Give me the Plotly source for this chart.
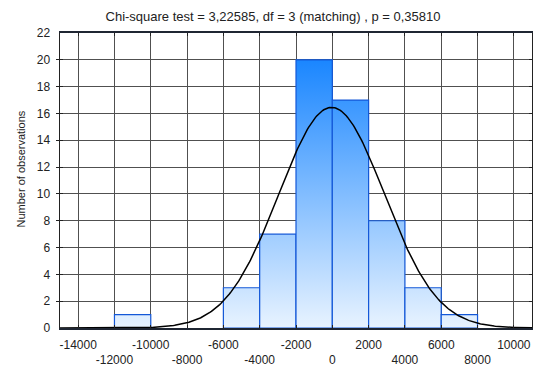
import numpy as np
import plotly.graph_objects as go

# ---- data ----
bin_left = [-12000, -10000, -8000, -6000, -4000, -2000, 0, 2000, 4000, 6000]
counts = [1, 0, 0, 3, 7, 20, 17, 8, 3, 1]
bin_width = 2000
x_ticks_row1 = [-14000, -10000, -6000, -2000, 2000, 6000, 10000]
x_ticks_row2 = [-12000, -8000, -4000, 0, 4000, 8000]
y_tick_vals = [0, 2, 4, 6, 8, 10, 12, 14, 16, 18, 20, 22]
fit_mean = -40.0
fit_sd = 2910.0
n_obs = sum(counts)
title_text = "Chi-square test = 3,22585, df = 3 (matching) , p = 0,35810"
y_title = "Number of observations"

FONT = "Liberation Sans, Arial, sans-serif"
X_RANGE = [-15000, 11000]

W, H = 533, 369
ML, MR, MT, MB = 60, 1, 33, 41
PW = W - ML - MR
PH = H - MT - MB

fig = go.Figure()

# histogram bars with a vertical gradient fill
for left, c in zip(bin_left, counts):
    if c <= 0:
        continue
    right = left + bin_width
    fig.add_trace(go.Scatter(
        x=[left, left, right, right, left],
        y=[0, c, c, 0, 0],
        mode="lines",
        fill="toself",
        fillgradient=dict(type="vertical",
                          colorscale=[[0, "#E8F3FF"], [1, "#1A86FF"]],
                          start=0, stop=20),
        line=dict(color="#1458D8", width=1.2),
        hoverinfo="skip",
        showlegend=False,
    ))

# fitted normal curve (on the overlay axis that carries the 2nd label row)
xs = np.linspace(X_RANGE[0], X_RANGE[1], 400)
ys = n_obs * bin_width / (fit_sd * np.sqrt(2 * np.pi)) * np.exp(-0.5 * ((xs - fit_mean) / fit_sd) ** 2)
fig.add_trace(go.Scatter(x=xs, y=ys, mode="lines", xaxis="x2",
                         line=dict(color="black", width=1.5),
                         showlegend=False, hoverinfo="skip"))

all_ticks = sorted(x_ticks_row1 + x_ticks_row2)
tick_text = [("%d" % v) if v in x_ticks_row1 else "" for v in all_ticks]

tickfont = dict(family=FONT, size=12, color="#222")
GRID = "#505050"

fig.update_layout(
    width=W, height=H,
    margin=dict(l=ML, r=MR, t=MT, b=MB),
    paper_bgcolor="white", plot_bgcolor="white",
    font=dict(family=FONT, size=12, color="#222"),
    title=dict(text=title_text, x=273 / W, xanchor="center", y=1 - 16 / H,
               yanchor="middle", font=dict(family=FONT, size=13, color="#222")),
    xaxis=dict(range=X_RANGE, tickmode="array", tickvals=all_ticks,
               ticktext=tick_text, tickangle=0, automargin=False,
               showgrid=True, gridcolor=GRID, gridwidth=1,
               zeroline=False, showline=True, linecolor="#1f2633", linewidth=2,
               mirror="allticks", ticks="inside", ticklen=3, tickcolor="#222",
               ticklabelstandoff=5, tickfont=tickfont),
    xaxis2=dict(range=X_RANGE, overlaying="x", side="bottom", tickmode="array",
                tickvals=x_ticks_row2, ticktext=["%d" % v for v in x_ticks_row2],
                tickangle=0, automargin=False, showgrid=False, zeroline=False,
                showline=False, ticks="", ticklabelstandoff=23, tickfont=tickfont),
    yaxis=dict(range=[0, 22], tickmode="array", tickvals=y_tick_vals, automargin=False,
               showgrid=True, gridcolor=GRID, gridwidth=1,
               zeroline=False, showline=True, linecolor="#222", linewidth=1.5,
               mirror="allticks", ticks="inside", ticklen=3, tickcolor="#222",
               ticklabelstandoff=6, tickfont=tickfont),
    annotations=[dict(text=y_title, xref="paper", yref="paper",
                      x=(20 - ML) / PW, y=0.5 + 11 / PH, xanchor="center", yanchor="middle",
                      textangle=-90, showarrow=False,
                      font=dict(family=FONT, size=11, color="#222"))],
)

# remove the browser's default 8px body margin so the figure fills the window
fig.write_html("out.html",
               config={"displayModeBar": False, "staticPlot": True},
               post_script="document.body.style.margin='0';document.body.style.overflow='hidden';")
